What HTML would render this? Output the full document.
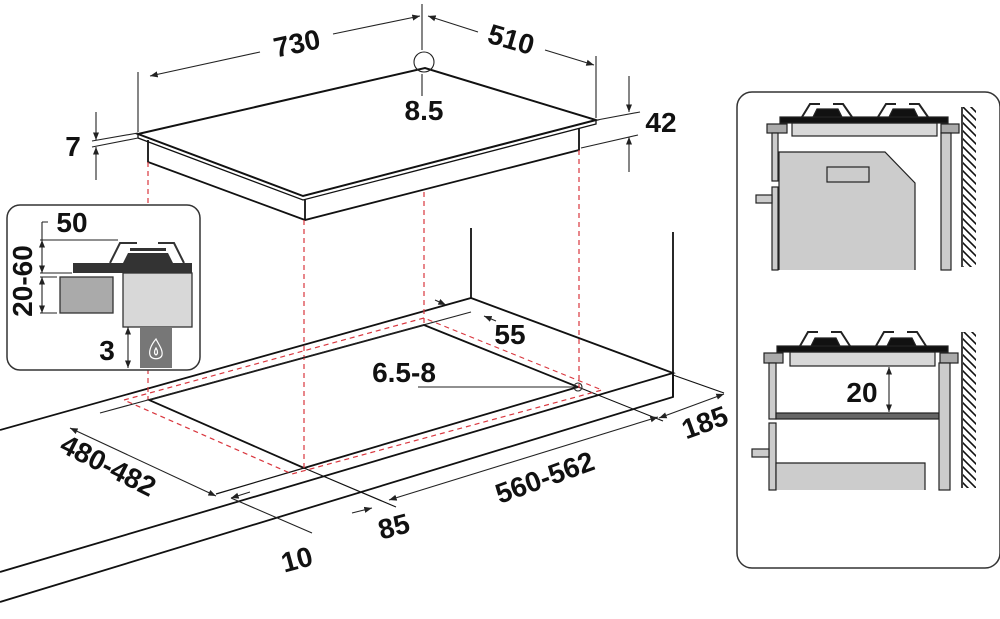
<!DOCTYPE html>
<html><head><meta charset="utf-8"><style>
html,body{margin:0;padding:0;background:#fff}
svg{display:block}
text{font-family:"Liberation Sans",sans-serif;font-weight:bold;fill:#111}
</style></head><body>
<svg width="1000" height="619" viewBox="0 0 1000 619" xmlns="http://www.w3.org/2000/svg">
<defs>
<marker id="a" viewBox="0 0 10 10" refX="10" refY="5" markerWidth="7" markerHeight="7" orient="auto-start-reverse"><path d="M0,1 L10,5 L0,9 z" fill="#222"/></marker>
<pattern id="h" width="8" height="8" patternUnits="userSpaceOnUse"><path d="M-2,-2 L10,10 M-2,6 L2,10 M6,-2 L10,2" stroke="#111" stroke-width="1.6"/></pattern>
</defs>
<g fill="none" stroke="#111" stroke-width="1.8">
<path d="M0,430 L471,298 L673,373 L0,572"/>
<path d="M673,373 L673,397 L0,602"/>
<path d="M471,298 L471,228"/>
<path d="M673,397 L673,232"/>
<path d="M149,400 L424,325 L578,387 L304,468 Z"/>
<path d="M304,468 L216,494" stroke-width="1.2"/>
<path d="M304,468 L396,507" stroke-width="1.2"/>
<path d="M578,387 L663,421" stroke-width="1.1"/>
<path d="M673,375 L724,393" stroke-width="1.1"/>
<path d="M138,134 L425,68 L596,120 L303,196 Z" stroke-width="2"/>
<path d="M138,134 L138,138 L303,200 L596,124 L596,120" stroke-width="1.3"/>
<path d="M148,140 L148,162 L305,220 L579,150 L579,128"/>
<path d="M305,200 L305,220"/>
</g>
<g fill="none" stroke="#d9363e" stroke-width="1.2" stroke-dasharray="5,4">
<path d="M124,400 L424,318 L602,390 L292,474 Z"/>
<path d="M148,162 L148,400 M304,220 L304,470 M424,192 L424,325 M579,150 L579,388"/>
</g>
<g fill="none" stroke="#222" stroke-width="1.1">
<path d="M138,72 L138,132 M422,4 L422,50 M422,74 L422,96 M596,56 L596,118"/>
<path d="M150,76 L260,52" marker-start="url(#a)"/>
<path d="M333,34 L420,16" marker-end="url(#a)"/>
<path d="M428,16 L478,32" marker-start="url(#a)"/>
<path d="M545,50 L594,65" marker-end="url(#a)"/>
<circle cx="424" cy="62" r="10"/>
<path d="M597,120 L640,112 M581,148 L638,135"/>
<path d="M629,76 L629,112" marker-end="url(#a)"/>
<path d="M629,172 L629,137" marker-end="url(#a)"/>
<path d="M92,141 L138,133 M92,147 L138,138"/>
<path d="M96,112 L96,140" marker-end="url(#a)"/>
<path d="M96,180 L96,147" marker-end="url(#a)"/>
<path d="M100,413 L471,312"/>
<path d="M435,300 L446,305" marker-end="url(#a)"/>
<path d="M496,321 L484,316" marker-end="url(#a)"/>
<path d="M418,387 L578,387"/>
<circle cx="578" cy="387" r="4"/>
<path d="M70,428 L216,496" marker-start="url(#a)" marker-end="url(#a)"/>
<path d="M231,498 L312,533"/>
<path d="M231,498 L250,492" marker-start="url(#a)"/>
<path d="M352,513 L372,508" marker-end="url(#a)"/>
<path d="M389,500 L658,417" marker-start="url(#a)" marker-end="url(#a)"/>
<path d="M659,418 L724,394" marker-start="url(#a)" marker-end="url(#a)"/>
</g>
<g font-size="28">
<text x="297" y="53" text-anchor="middle" transform="rotate(-12 297 44)">730</text>
<text x="511" y="49" text-anchor="middle" transform="rotate(16 511 40)">510</text>
<text x="424" y="120" text-anchor="middle">8.5</text>
<text x="661" y="132" text-anchor="middle">42</text>
<text x="73" y="156" text-anchor="middle">7</text>
<text x="510" y="344" text-anchor="middle">55</text>
<text x="404" y="382" text-anchor="middle">6.5-8</text>
<text x="108" y="475" text-anchor="middle" transform="rotate(27 108 466)">480-482</text>
<text x="545" y="487" text-anchor="middle" transform="rotate(-20 545 478)">560-562</text>
<text x="705" y="432" text-anchor="middle" transform="rotate(-20 705 423)">185</text>
<text x="394" y="536" text-anchor="middle" transform="rotate(-15 394 527)">85</text>
<text x="297" y="569" text-anchor="middle" transform="rotate(-15 297 560)">10</text>
</g>
<rect x="7" y="205" width="193" height="165" rx="13" fill="#fff" stroke="#333" stroke-width="1.5"/>
<rect x="73" y="263" width="119" height="10" fill="#333"/>
<path d="M110,263 L120,243 L137,243 M158,243 L174,243 L184,263" fill="none" stroke="#333" stroke-width="2"/>
<path d="M123,263 L128,253 L168,253 L173,263 Z" fill="#333"/>
<rect x="130" y="248" width="36" height="3" fill="#333"/>
<rect x="123" y="273" width="69" height="54" fill="#d8d8d8" stroke="#333" stroke-width="1.3"/>
<rect x="60" y="277" width="53" height="36" fill="#aaa" stroke="#333" stroke-width="1.3"/>
<rect x="140" y="327" width="32" height="41" fill="#777"/>
<path d="M156,339 C150,346 149,352 150,355 C151,360 161,360 162,355 C163,350 159,345 156,339 Z M156,348 C154,351 154,354 156,355 C158,354 158,351 156,348Z" fill="none" stroke="#fff" stroke-width="1.2"/>
<g fill="none" stroke="#222" stroke-width="1.1">
<path d="M42,222 L48,222 M42,222 L42,240 M40,240 L118,240 M40,273 L72,273 M40,277 L57,277 M40,313 L57,313"/>
<path d="M42,240 L42,273" marker-start="url(#a)" marker-end="url(#a)"/>
<path d="M42,277 L42,313" marker-start="url(#a)" marker-end="url(#a)"/>
<path d="M128,327 L128,368" marker-start="url(#a)" marker-end="url(#a)"/>
</g>
<g font-size="28">
<text x="72" y="232" text-anchor="middle">50</text>
<text x="31" y="300" text-anchor="middle" transform="rotate(-90 22 290)">20-60</text>
<text x="107" y="360" text-anchor="middle">3</text>
</g>
<rect x="737" y="92" width="263" height="476" rx="15" fill="#fff" stroke="#333" stroke-width="1.5"/>
<g stroke="#222" stroke-width="1.2">
<rect x="792" y="123" width="145" height="13" fill="#d8d8d8"/>
<rect x="780" y="117" width="168" height="6" fill="#111"/>
<path d="M802,117 L810,104 L820,104 M833,104 L843,104 L852,117 M878,117 L886,104 L896,104 M909,104 L919,104 L928,117" fill="none" stroke-width="2"/>
<path d="M813,117 L817,109 L838,109 L842,117Z M889,117 L893,109 L914,109 L918,117Z" fill="#111"/>
<rect x="767" y="124" width="20" height="9" fill="#aaa"/>
<rect x="941" y="124" width="18" height="9" fill="#aaa"/>
<rect x="772" y="133" width="6" height="48" fill="#ccc"/>
<rect x="772" y="187" width="6" height="83" fill="#ccc"/>
<rect x="756" y="195" width="16" height="8" fill="#ccc"/>
<path d="M779,270 L779,152 L885,152 L915,183 L915,270" fill="#ccc"/>
<rect x="827" y="167" width="42" height="15" fill="#ccc"/>
<rect x="941" y="133" width="10" height="137" fill="#ccc"/>
<rect x="790" y="352" width="145" height="14" fill="#d8d8d8"/>
<rect x="777" y="346" width="171" height="6" fill="#111"/>
<path d="M800,346 L808,332 L818,332 M831,332 L841,332 L850,346 M876,346 L884,332 L894,332 M907,332 L917,332 L926,346" fill="none" stroke-width="2"/>
<path d="M811,346 L815,338 L836,338 L840,346Z M887,346 L891,338 L912,338 L916,346Z" fill="#111"/>
<rect x="764" y="353" width="19" height="10" fill="#aaa"/>
<rect x="940" y="353" width="18" height="10" fill="#aaa"/>
<rect x="769" y="363" width="7" height="56" fill="#ccc"/>
<rect x="769" y="423" width="7" height="67" fill="#ccc"/>
<rect x="752" y="449" width="17" height="8" fill="#ccc"/>
<rect x="776" y="413" width="163" height="6" fill="#666"/>
<rect x="939" y="363" width="11" height="127" fill="#ccc"/>
<path d="M776,490 L776,463 L925,463 L925,490" fill="#ccc"/>
</g>
<rect x="963" y="107" width="13" height="160" fill="url(#h)"/>
<rect x="963" y="332" width="13" height="156" fill="url(#h)"/>
<path d="M962,107 L962,267 M962,332 L962,488" stroke="#111" stroke-width="1.6"/>
<path d="M889,367 L889,412" stroke="#222" stroke-width="1.1" marker-start="url(#a)" marker-end="url(#a)"/>
<text x="862" y="402" font-size="28" text-anchor="middle">20</text>
</svg>
</body></html>
